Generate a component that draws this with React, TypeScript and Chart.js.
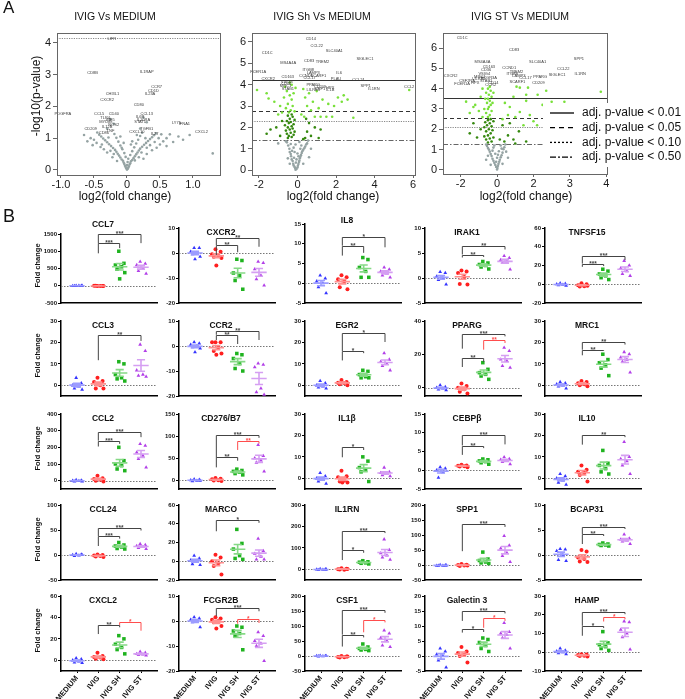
import React, { useEffect, useRef } from "react";
import { Chart, registerables } from "chart.js";

Chart.register(...registerables);

const FONT = "'Liberation Sans', Arial, Helvetica, sans-serif";

/* ================= Panel A : volcano plots ================= */
const v1Gray = [
  [0,0.01],[0.01,0.03],[-0.01,0.05],[0.02,0.07],[-0.02,0.09],[0.03,0.11],[-0.03,0.13],[0,0.15],[0.04,0.17],[-0.04,0.19],
  [0.05,0.21],[-0.05,0.23],[0.01,0.25],[0.06,0.27],[-0.06,0.29],[0.08,0.31],[-0.08,0.33],[0.02,0.35],[0.1,0.37],[-0.1,0.39],
  [-0.02,0.41],[0.12,0.43],[-0.12,0.45],[0.05,0.47],[0.14,0.49],[-0.14,0.51],[-0.04,0.53],[0.16,0.55],[-0.16,0.57],[0.08,0.59],
  [0.18,0.61],[-0.18,0.63],[-0.07,0.65],[0.2,0.67],[-0.21,0.69],[0.11,0.71],[0.23,0.73],[-0.24,0.75],[-0.1,0.77],[0.26,0.79],
  [-0.27,0.81],[0.14,0.83],[0.29,0.85],[-0.3,0.87],[-0.13,0.89],[0.32,0.91],[-0.33,0.93],[0.17,0.95],[0.35,0.97],[-0.36,0.99],
  [-0.16,1.01],[0.38,1.03],[-0.39,1.05],[0.2,1.07],[0.41,1.09],[-0.42,1.11],[-0.19,1.13],[0.44,1.15],[0.23,1.17],[-0.45,1.18],
  [0.25,0.35],[-0.22,0.4],[0.3,0.5],[-0.3,0.55],[0.38,0.62],[-0.35,0.65],[0.45,0.7],[-0.4,0.72],[0.5,0.8],[-0.46,0.85],
  [0.55,0.9],[-0.5,0.95],[0.6,1.0],[-0.55,1.0],[0.52,1.12],[0.65,1.12],[-0.65,1.1],[0.95,1.1],[1.3,0.52],[0.7,0.88],
  [0.78,1.05],[-0.6,0.9],[0.3,0.7],[-0.25,0.6],[0.12,0.3],[-0.15,0.28],[0.18,0.4],[0.28,1.0],[-0.28,1.02],[0.08,0.9],
  [-0.05,0.85],[0.35,0.78],[-0.38,0.8],[0.42,0.88],[0.15,1.1],[-0.1,1.05],[0.48,1.0],[0.6,0.75],[-0.52,0.78],[0.85,0.95],
  [0.22,0.55],[-0.2,0.5],[-0.3,1.3],[-0.2,1.45],[0.2,1.3],[0.3,1.5],[-0.25,1.6],[0.25,1.65],[-0.08,0.7],[0.06,0.8],
];
const v1Labels: [string, number, number][] = [
  ["LIFR",-0.23,4.13],["CD8B",-0.52,3.05],["IL1RAP",0.3,3.1],["CCR7",0.45,2.6],["CD1D",0.4,2.5],["IL23A",0.35,2.4],
  ["CHI3L1",-0.22,2.4],["CXCR2",-0.3,2.2],["CD80",0.18,2.05],["PDGFRA",-0.97,1.75],["CXCL2",1.13,1.2],["LY75",0.75,1.47],
  ["IFNA1",0.87,1.46],["CD209",-0.55,1.3],["CCL5",-0.42,1.75],["CD40",-0.2,1.75],["TLR4",-0.33,1.65],["IRF5",-0.25,1.58],
  ["MYD88",-0.32,1.5],["NOS2",-0.2,1.42],["IL12B",-0.3,1.35],["TNF",-0.25,1.22],["CD86",-0.35,1.15],["IL6R",0.2,1.68],
  ["CCL13",0.3,1.75],["IL10RA",0.25,1.58],["STAT1",0.2,1.5],["TGFB1",0.3,1.28],["CXCL10",0.15,1.2],["IL27",0.42,1.12],
];

const v2Gray = [
  [-0.1,0.02],[-0.05,0.05],[-0.12,0.1],[0,0.12],[-0.15,0.15],[0.02,0.2],[-0.2,0.22],[0.05,0.28],[-0.22,0.3],[-0.08,0.35],
  [0.08,0.38],[-0.25,0.42],[0.1,0.45],[-0.3,0.5],[0.12,0.55],[-0.18,0.58],[0.15,0.62],[-0.33,0.65],[0.18,0.7],[-0.35,0.75],
  [0,0.78],[0.22,0.8],[-0.4,0.85],[0.25,0.88],[-0.28,0.9],[0.3,0.95],[-0.42,1.0],[0.35,1.02],[-0.2,1.05],[0.4,1.1],
  [-0.48,1.15],[0.45,1.2],[-0.35,1.22],[0.5,1.25],[-0.55,1.3],[0.1,1.32],[-0.6,1.35],[0.55,1.38],[-1.0,1.25],[0.7,1.0],
  [0.6,0.6],[-0.5,0.55],[0.3,0.3],[-0.4,0.3],[-0.05,0.5],[0.05,0.65],[-0.15,0.85],[0.15,1.0],[-0.1,1.2],[0.2,1.15],
];
const v2Dark = [
  [-0.5,1.5],[-0.3,1.55],[-0.45,1.6],[-0.2,1.65],[-0.55,1.7],[-0.35,1.75],[-0.15,1.8],[-0.6,1.85],[-0.4,1.9],[-0.25,1.95],
  [-0.5,2.0],[-0.3,2.05],[-0.65,2.1],[-0.2,2.15],[-0.45,2.2],[-0.35,2.25],[-0.55,2.3],[-0.15,2.35],[-0.4,2.4],[-0.25,2.5],
  [-0.5,2.55],[-0.3,2.6],[-1.4,1.9],[-1.6,1.7],[-0.9,1.6],[0.4,1.5],[0.5,1.8],[0.7,1.6],[0.9,2.0],[1.2,1.9],
  [0.6,2.2],[0.45,2.4],[1.1,1.5],[0.3,1.45],[-0.8,2.3],[-1.1,2.0],
];
const v2Light = [
  [-2.1,3.75],[-1.6,3.6],[-1.5,3.35],[-1.2,3.2],[-0.9,3.0],[-0.7,3.4],[-0.6,2.9],[-0.5,3.1],[-0.4,3.5],[-0.3,3.3],
  [-0.2,3.6],[-0.45,2.7],[-0.35,2.8],[-0.25,3.0],[-0.15,2.75],[-0.55,3.7],[-0.65,3.9],[-0.3,4.0],[-0.1,3.85],[-0.4,4.1],
  [0.3,3.8],[0.4,3.4],[0.5,3.0],[0.6,3.6],[0.7,2.8],[0.8,3.2],[0.9,2.5],[1.0,3.7],[1.1,2.9],[1.3,3.3],
  [1.5,2.5],[1.6,3.1],[1.8,2.5],[1.9,3.0],[2.1,3.4],[2.3,3.2],[2.4,3.5],[2.6,3.3],[2.9,2.45],[0.2,2.6],
  [0.35,2.5],[1.2,2.5],[-1.0,2.6],[-0.8,2.7],[5.8,3.75],
];
const v2Labels: [string, number, number][] = [
  ["CD14",0.69,6.13],["CCL22",1.0,5.83],["SLC40A1",1.91,5.58],["CD1C",-1.57,5.5],["SIGLEC1",3.5,5.2],["CD83",0.6,5.1],
  ["MS4A4A",-0.48,5.03],["TREM2",1.3,5.05],["FCER1A",-2.04,4.58],["CXCR2",-1.52,4.27],["ITGB8",0.56,4.69],["LAMP3",0.82,4.56],
  ["CCND1",0.44,4.4],["CCL17",0.63,4.3],["SCARF1",1.08,4.4],["IL6",2.16,4.53],["PLAU",2.0,4.27],["CCL24",3.16,4.22],
  ["SPP1",3.54,3.94],["IL1RN",3.97,3.8],["CCL2",5.8,3.9],["CD163",-0.5,4.35],["VSIG4",-0.55,4.15],["CD36",-0.6,4.02],
  ["MRC1",-0.62,3.92],["STAB1",-0.5,3.82],["PPARG",0.82,4.0],["CD209",1.17,3.9],["HPX",1.7,3.85],["LILRB5",0.82,3.75],
  ["CSF1",1.17,3.8],["IL1B",1.7,3.75],
];

const v3Gray = [
  [0,0.02],[0.02,0.1],[-0.05,0.15],[0.05,0.2],[-0.1,0.25],[0.08,0.3],[-0.15,0.35],[0.12,0.4],[-0.2,0.45],[0.15,0.5],
  [-0.25,0.55],[0,0.6],[0.2,0.62],[-0.3,0.68],[0.25,0.72],[-0.35,0.78],[-0.1,0.8],[0.3,0.85],[-0.4,0.9],[0.1,0.92],
  [-0.45,1.0],[0.35,1.02],[-0.5,1.08],[-0.2,1.1],[0.4,1.12],[-0.55,1.18],[0.2,1.2],[-0.6,1.25],[0.45,1.25],[0.5,0.9],
  [-0.5,0.7],[0.6,0.6],[-0.6,0.5],[0.3,0.3],[-0.35,0.25],[-0.05,0.4],[0.05,0.75],[-0.25,0.95],[-0.15,1.2],[0.25,1.05],
];
const v3Dark = [
  [-0.5,1.35],[-0.3,1.4],[-0.6,1.5],[-0.4,1.55],[-0.2,1.6],[-0.7,1.65],[-0.5,1.7],[-0.35,1.8],[-0.6,1.9],[-0.25,1.95],
  [-0.45,2.0],[-0.7,2.1],[-0.3,2.15],[-0.55,2.2],[-0.4,2.3],[-0.65,2.35],[-0.2,2.4],[-0.5,2.45],[-0.35,2.5],[-1.5,1.8],
  [-1.1,1.6],[-0.9,2.0],[0.4,1.4],[0.6,1.7],[0.9,1.5],[1.2,1.9],[1.6,1.4],[0.3,2.2],[0.7,2.3],[1.0,1.3],
  [0.15,1.5],[-1.3,2.3],
];
const v3Light = [
  [-0.5,2.6],[-0.4,2.7],[-0.6,2.8],[-0.3,2.9],[-0.5,3.0],[-0.45,3.1],[-0.35,3.2],[-0.55,3.3],[-0.4,3.4],[-0.5,3.5],
  [-0.3,3.6],[-0.45,3.7],[-0.6,3.8],[-0.35,3.9],[-0.5,4.0],[-0.4,4.1],[-0.7,3.0],[-0.25,3.3],[-0.65,3.5],[-0.2,3.8],
  [-0.8,2.6],[-1.0,2.9],[-1.2,3.2],[-1.3,3.1],[-1.7,3.36],[-1.5,2.8],[-0.9,3.6],[-0.8,4.0],[0.3,2.5],[0.43,3.3],
  [0.7,3.1],[0.9,3.6],[1.07,4.1],[1.25,4.05],[1.7,4.05],[1.6,3.7],[2.23,3.7],[2.7,3.9],[5.7,3.85],[1.25,2.85],
  [1.8,2.7],[2.5,3.2],[3.0,3.35],[3.7,3.35],[1.6,3.4],[1.0,2.6],[1.45,2.2],[2.0,2.4],[0.6,2.7],[2.2,2.2],
];
const v3Labels: [string, number, number][] = [
  ["CD1C",-1.92,6.48],["CD83",0.94,5.9],["SPP1",4.5,5.45],["IL1RN",4.57,4.75],["CCL22",3.64,4.95],["SIGLEC1",3.3,4.7],
  ["SLC40A1",2.23,5.3],["PPARG",2.37,4.6],["CD209",2.28,4.3],["CCND1",0.67,5.03],["TREM2",1.07,4.85],["ITGB8",0.83,4.75],
  ["LAMP3",1.2,4.65],["CCL17",1.56,4.55],["SCARF1",1.12,4.34],["CXCR2",-2.55,4.62],["CSF2RA",-1.65,4.4],["FCER1A",-1.92,4.24],
  ["HPX",-1.2,4.3],["MS4A4A",-0.8,5.3],["CD163",-0.45,5.05],["CD36",-0.6,4.9],["VSIG4",-0.7,4.75],["MRC1",-0.95,4.6],
  ["FCGR3A",-0.45,4.55],["STAB1",-0.6,4.4],["CD14",-0.2,4.3],["CCR2",-0.35,4.2],["LILRB5",-1.0,4.5],
];

const v1Cutoffs = [4.15];
const v2Cutoffs = [4.22, 2.75, 2.32, 1.42];
const v3Cutoffs = [3.52, 2.55, 2.12, 1.3];
const v1XTicks = [-1, -0.5, 0, 0.5, 1];
const v1XTickLabels = ["-1.0", "-0.5", "0", "0.5", "1.0"];
const v2XTicks = [-2, 0, 2, 4, 6];
const v2XTickLabels = ["-2", "0", "2", "4", "6"];
const v3XTicks = [-2, 0, 2, 4, 6];
const v3XTickLabels = ["-2", "0", "2", "3", "4"];
const v1YTicks = [0, 1, 2, 3, 4];
const v2YTicks = [0, 1, 2, 3, 4, 5, 6];
const v3YTicks = [0, 1, 2, 3, 4, 5, 6];
const legendLabels = ["adj. p-value < 0.01", "adj. p-value < 0.05", "adj. p-value < 0.10", "adj. p-value < 0.50"];

/* ================= Panel B : dot plots ================= */
const groupNames = ["MEDIUM", "IVIG", "IVIG SH", "IVIG ST"];
const geneNames = [
  "CCL7","CXCR2","IL8","IRAK1","TNFSF15",
  "CCL3","CCR2","EGR2","PPARG","MRC1",
  "CCL2","CD276/B7","IL1β","CEBPβ","IL10",
  "CCL24","MARCO","IL1RN","SPP1","BCAP31",
  "CXCL2","FCGR2B","CSF1","Galectin 3","HAMP",
];
const yMin = [-500,-20,-5,-5,-20, -5,-20,-5,-5,-5, -50,-20,-5,-5,-5, -50,-20,-50,-50,-5, -10,-20,-50,-5,-10];
const yMax = [1500,10,15,10,60, 30,10,30,40,30, 400,150,30,15,30, 100,60,300,200,10, 60,10,200,20,30];
const yTicks = [
  [-500,0,500,1000,1500],[-20,-10,0,10],[-5,0,5,10,15],[-5,0,5,10],[-20,0,20,40,60],
  [0,10,20,30],[-20,-10,0,10],[0,10,20,30],[0,20,40],[0,10,20,30],
  [0,100,200,300,400],[0,50,100,150],[0,10,20,30],[-5,0,5,10,15],[0,10,20,30],
  [-50,0,50,100],[-20,0,20,40,60],[0,100,200,300],[-50,0,50,100,150,200],[-5,0,5,10],
  [0,20,40,60],[-20,-10,0,10],[-50,0,50,100,150,200],[-5,0,5,10,15,20],[-10,0,10,20,30],
];
const mediumValues = [
  [5,0,-3,2,-5,0],[2,2,0.5,0,-0.5,-1.5,-2.5],[2,1.2,0.5,0,-1,-2.5],[1.2,1,0.3,0,-0.4,-1.3],[1,0.5,0,-0.5,-1,-1.5],
  [3.5,1,0,-0.5,-1.5,-2],[1.5,1,0.5,0,-0.5,-1,-2.5],[2,1,0,-0.5,-1,-1.5],[1.5,0.5,0,-0.5,-1,-1.5],[1.5,1,0.5,0,-0.5,-1.5],
  [5,2,0,-2,-5,-4],[2,1,0,-1,-2,-1],[2.5,1,0,-0.5,-1.5,-2.5],[0.8,0.5,0,-0.5,-2],[2,1,0,-1,-2,-3],
  [2,1,0,-1,-2,0],[6,3,1,0,-3,-4],[2,0,-1,-2,-3,0],[0,-1,-2,-2,-2,-1],[1.2,1.1,0.8,0,-1,-1.2],
  [2,1,0,-1,-2,-2.5],[1.5,1,0.5,0,-0.5,-2.5],[1,0.5,0,-0.5,-1,0],[2.5,1.5,0.5,0,-1.5,-3.8],[2,1,0.5,0,-0.5,-1],
];
const ivigValues = [
  [-8,-5,0,-10,-3,-6],[1.5,0.5,-0.5,-1,-1.5,-2,-5],[2,1.5,1,0.5,-1,-1.5],[1.5,1.3,1,0.2,-1.2,-1.3],[1,0,-1,-2,-2.5,-1.5],
  [3.5,2,1.5,0,-1.5,-1.5],[1.5,1.5,1.5,-0.5,-2,-3,-3.5],[2.5,1.5,1.2,1,0.5,0],[2.5,1,0,-1,-2.5,-3.5],[2,1.5,1,0.5,0,-0.5],
  [30,15,10,5,0,-5],[5,3,2,0,-1,-2],[3.5,1,0.5,-1,-1.5,-2,-2],[1.5,1.3,1.2,1.1,1,0.8],[6,4,3,2.5,1.5,-1.5],
  [1,0,-1,-2,-3,-4],[7,4,0,-2,-5,-14],[5,2,0,-2,-1,1],[3,1,0,-2,-3,-2],[1,0.7,-0.5,-0.8,-1.3,-1.4],
  [7,4,3,2.5,1.5,1],[1.5,1,0.5,0,-0.5,-2,-3],[0,-2,-3,-4,-5,-2],[3,1.5,1,0.5,0,-2.2],[-1,-1.2,-1.5,-1.8,-2,-2.2],
];
const ivigShValues = [
  [1000,650,600,550,480,380,200],[-2.5,-3,-8,-9,-11,-14.5],[6.5,6,4,3,1.5,1.5],[3.3,3,2.7,2.5,2.2,1.8],[16,14,11,9,7,5],
  [11,10,5,3.5,3,2],[-3,-3.5,-5,-7,-9,-10],[7,6.5,5,4,3.5,3.5],[15,11,9,8,7,5],[14.5,12,10.5,9.5,8,4.5],
  [200,120,100,90,70,60],[25,22,20,18,15,12],[10,8,5,4,3,-1.5],[3,2.8,2.5,2.3,2,1.6],[13,7,6,4.5,3,2],
  [25,20,18,16,13,12],[34,19,13,6,3,2],[40,35,33,30,28,25],[43,20,15,10,7,5],[2.4,2.2,2.1,2,1.9,1.8],
  [23,20,15,12,10,6],[-2,-2.5,-4,-5,-6,-11.5],[40,30,25,22,20,18],[6,5.5,4.5,3.5,2.5,1.5],[11,5,4,3,2,1],
];
const ivigStValues = [
  [700,640,600,500,430,350],[-3.5,-4,-6.5,-9,-10.5,-13],[4,3.5,3,2.5,2,1.5],[4.4,4,3.6,3.3,3,1.7],[25,20,17,14,11,9],
  [19,16,7,5,4.5,4],[-7,-7.5,-8.5,-17,-18.5,-19.5],[15,12,11,10,9,7],[24,22,17,16,13,12],[15.5,14.5,13,12,11,6],
  [220,210,170,150,130,80],[80,55,50,45,40,20],[5,3,2.5,2,1.5,1],[3.5,3,2.8,2.6,2.2,1.6],[17,10,9,8,6,2],
  [22,20,18,16,14,12],[24,11,8,5,2,2],[140,90,75,65,55,45],[97,65,55,40,30,10],[4.1,3.3,3.1,2.9,2.7,2.2],
  [8,7,6,5.5,5,4.5],[-4.5,-6,-8,-9,-10,-16],[85,75,60,50,35,30],[11,8,7.5,7,6,2.5],[16.5,16,12,10,8,1.5],
];
// [fromGroup, toGroup, top, leftEnd, rightEnd, stars, red]
const brackets: [number, number, number, number, number, string, number][][] = [
  [[1,2,1235,940,1090,"***",0],[1,3,1510,1235,1235,"***",0]],
  [[1,2,3.2,-0.8,0.3,"**",0],[1,3,6.1,3.2,2.5,"**",0]],
  [[1,2,9.5,7,7.7,"**",0],[1,3,11.8,9.5,9.1,"*",0]],
  [[1,2,4.7,4.1,4.2,"**",0],[1,3,6.4,4.7,5.7,"**",0]],
  [[1,2,22,18.6,19.4,"***",0],[1,3,30.4,22,25.7,"***",0]],
  [[1,3,23.6,11.7,20.7,"**",0]],
  [[1,2,4.5,2.4,0.8,"**",0],[1,3,6.2,4.5,2.4,"**",0]],
  [[1,2,16,11.6,15,"*",0],[1,3,24.4,16,20.2,"*",0]],
  [[1,2,18,12.4,15.4,"**",0],[1,3,32.4,23.4,30.8,"***",0],[2,3,28.8,22.8,26.8,"**",1]],
  [[1,2,16.6,14,16,"**",0],[1,3,20.2,16.6,19,"**",0]],
  [[1,2,240,205,221,"***",0],[1,3,290,240,261,"***",0]],
  [[1,2,51.5,29,44,"**",0],[1,3,102,51.5,96,"***",0],[2,3,88.5,68.5,83,"**",1]],
  [[1,2,14.4,9.8,13.2,"*",0]],
  [[1,2,6.6,4.1,5.9,"**",0],[1,3,9.5,6.6,6.9,"***",0]],
  [[1,3,20.3,15.7,19.2,"**",0]],
  [[1,2,38,18,32.7,"***",0],[1,3,54,38,49,"***",0]],
  [[1,3,44,32,41,"*",0]],
  [[1,2,90,43,77,"*",0],[1,3,180,90,169,"***",0]],
  [[1,3,137,46,127,"***",0]],
  [[1,2,4.2,2.2,3.8,"**",0],[1,3,5.6,4.2,5.2,"***",0]],
  [[1,2,33,24.5,30.8,"**",0],[2,3,36,33,27.6,"*",1]],
  [[1,3,5.3,1.9,3.9,"***",0],[2,3,0.9,-1.1,-0.8,"*",1]],
  [[1,2,71,31.5,62,"**",0],[1,3,152,71,144,"***",0],[2,3,120,79,112,"*",1]],
  [[1,2,8.9,7.8,8,"*",0],[1,3,15,11.7,14.2,"***",0],[2,3,12.6,9.4,11.7,"*",1]],
  [[1,2,14.1,8.8,12.9,"*",0],[1,3,21.5,14.1,20.3,"***",0],[2,3,18.9,16.4,17.6,"*",1]],
];

/* ================= styles / layout ================= */
const GROUP_COLOR = ["#3434ff", "#ff1f1f", "#1fb31f", "#b23fe8"];
const GROUP_MEAN = ["#9c9cff", "#ff8f8f", "#86d986", "#d59ff2"];
const GROUP_STYLE = ["triangle", "circle", "rect", "triangle"];
const GROUP_RADIUS = [2.2, 2.0, 2.5, 2.2];
const JITTER = [-0.04, 0.2, -0.2, 0.09, -0.12, 0.24, 0.0];
const COL_X = [61, 179, 305, 425, 545];
const ROW_Y = [228, 321, 414, 505, 596];
const TOP_SHIFT = [6, 0, -4, 0, 0, 0, 0, 0, 0, 0, 0, 0, 0, 0, 0, 0, 0, 0, 0, 0, 0, 0, 0, 0, 0];
const TITLE_DY = [-9, 5, -3, 5, 5, 5, 5, 5, 5, 5, 5, 5, 5, 5, 5, 5, 5, 5, 5, 5, 5, 5, 5, 5, 5];
const PLOT_W = 96;
const PLOT_H = 75;

const LINE_DASH = [[], [4, 3], [1.2, 1.2], [5, 2, 1.5, 2]];
const LINE_COLOR = ["#333", "#333", "#888", "#666"];
const LEGEND_DASH = [[], [5, 4], [2, 2], [6, 2, 2, 2]];

function meanSem(vals: number[]) {
  const n = vals.length;
  const m = vals.reduce((a, b) => a + b, 0) / n;
  const sd = Math.sqrt(vals.reduce((a, b) => a + (b - m) * (b - m), 0) / (n - 1));
  return [m, sd / Math.sqrt(n)];
}

function volcanoConfig(s: any) {
  const YW = 24, XH = 16, H = 205;
  const [l, t, r, b] = s.area;
  const pts = (arr: number[][]) => arr.map(([x, y]) => ({ x, y }));
  const ds = (arr: number[][], color: string) => ({
    data: pts(arr), backgroundColor: color, borderColor: color, pointRadius: 1.3, pointBorderWidth: 0, pointHoverRadius: 0,
  });
  const plugin = {
    id: "volcano",
    beforeDatasetsDraw(chart: any) {
      const { ctx, chartArea: a, scales } = chart;
      ctx.save();
      s.cutoffs.forEach((c: number, i: number) => {
        const st = s.cutoffStyles[i];
        const py = Math.round(scales.y.getPixelForValue(c)) + 0.5;
        ctx.setLineDash(LINE_DASH[st]);
        ctx.strokeStyle = LINE_COLOR[st];
        ctx.lineWidth = 1;
        ctx.beginPath(); ctx.moveTo(a.left, py); ctx.lineTo(a.right, py); ctx.stroke();
      });
      ctx.restore();
    },
    afterDraw(chart: any) {
      const { ctx, chartArea: a, scales } = chart;
      const ox = s.canvasLeft;
      ctx.save();
      ctx.font = `4px ${FONT}`;
      ctx.fillStyle = "#3a3a3a";
      ctx.textAlign = "center";
      ctx.textBaseline = "middle";
      s.labels.forEach(([name, lx, ly]: [string, number, number]) => {
        ctx.fillText(name, scales.x.getPixelForValue(lx), scales.y.getPixelForValue(ly));
      });
      ctx.setLineDash([]);
      ctx.strokeStyle = "#666";
      ctx.lineWidth = 1;
      ctx.strokeRect(Math.round(a.left) + 0.5, Math.round(a.top) + 0.5, Math.round(a.right - a.left), Math.round(a.bottom - a.top));
      ctx.fillStyle = "#111";
      ctx.font = `10.5px ${FONT}`;
      ctx.fillText(s.title, s.titleX - ox, 17);
      ctx.font = `12px ${FONT}`;
      ctx.fillText("log2(fold change)", s.xLabelX - ox, 197);
      if (s.yLabel) {
        ctx.save();
        ctx.translate(37 - ox, 96);
        ctx.rotate(-Math.PI / 2);
        ctx.fillText("-log10(p-value)", 0, 0);
        ctx.restore();
      }
      if (s.legend) {
        ctx.fillStyle = "#fff";
        ctx.fillRect(543 - ox, 103, 142, 64);
        legendLabels.forEach((txt, i) => {
          const yy = 113 + i * 14.7;
          ctx.setLineDash(LEGEND_DASH[i]);
          ctx.strokeStyle = "#000";
          ctx.lineWidth = 1.3;
          ctx.beginPath(); ctx.moveTo(550 - ox, yy); ctx.lineTo(574 - ox, yy); ctx.stroke();
          ctx.setLineDash([]);
          ctx.fillStyle = "#111";
          ctx.font = `12px ${FONT}`;
          ctx.textAlign = "left";
          ctx.fillText(txt, 582 - ox, yy);
        });
      }
      ctx.restore();
    },
  };
  const tickFont = { family: FONT, size: 11 };
  return {
    type: "scatter",
    data: { datasets: [ds(s.gray, "#95a3a3"), ds(s.dark, "#35880f"), ds(s.light, "#79e03a")] },
    options: {
      animation: false, responsive: false, devicePixelRatio: 1, events: [],
      layout: { padding: { left: l - s.canvasLeft - YW, right: s.canvasLeft + s.canvasWidth - r, top: t, bottom: H - b - XH } },
      plugins: { legend: { display: false }, tooltip: { enabled: false } },
      scales: {
        x: {
          type: "linear", min: s.xMin, max: s.xMax,
          afterBuildTicks: (sc: any) => { sc.ticks = s.xTicks.map((v: number) => ({ value: v })); },
          ticks: { callback: (_v: any, i: number) => s.xTickLabels[i], font: tickFont, color: "#1a1a1a", padding: 0, maxRotation: 0, minRotation: 0, autoSkip: false },
          grid: { display: true, drawOnChartArea: false, drawTicks: true, tickLength: 3, color: "#666" },
          border: { display: false },
          afterFit: (sc: any) => { sc.height = XH; sc.paddingLeft = 0; sc.paddingRight = 0; },
        },
        y: {
          type: "linear", min: s.yMin, max: s.yMax,
          afterBuildTicks: (sc: any) => { sc.ticks = s.yTicks.map((v: number) => ({ value: v })); },
          ticks: { callback: (v: any) => String(v), font: tickFont, color: "#1a1a1a", padding: 2, autoSkip: false },
          grid: { display: true, drawOnChartArea: false, drawTicks: true, tickLength: 4, color: "#666" },
          border: { display: false },
          afterFit: (sc: any) => { sc.width = YW; sc.paddingTop = 0; sc.paddingBottom = 0; },
        },
      },
    },
    plugins: [plugin],
  };
}

const volcanoSpecs = [
  {
    canvasLeft: 0, canvasWidth: 228, area: [57, 33, 220, 175],
    xMin: -1.06, xMax: 1.41, yMin: -0.16, yMax: 4.31,
    xTicks: v1XTicks, xTickLabels: v1XTickLabels, yTicks: v1YTicks,
    gray: v1Gray, dark: [], light: [], labels: v1Labels,
    cutoffs: v1Cutoffs, cutoffStyles: [2],
    title: "IVIG Vs MEDIUM", titleX: 115, xLabelX: 125, yLabel: true, legend: false,
  },
  {
    canvasLeft: 228, canvasWidth: 192, area: [252, 33, 415, 175],
    xMin: -2.36, xMax: 6.1, yMin: -0.23, yMax: 6.42,
    xTicks: v2XTicks, xTickLabels: v2XTickLabels, yTicks: v2YTicks,
    gray: v2Gray, dark: v2Dark, light: v2Light, labels: v2Labels,
    cutoffs: v2Cutoffs, cutoffStyles: [0, 1, 2, 3],
    title: "IVIG Sh Vs MEDIUM", titleX: 322, xLabelX: 333, yLabel: false, legend: false,
  },
  {
    canvasLeft: 420, canvasWidth: 265, area: [443, 33, 607, 174],
    xMin: -2.97, xMax: 6.04, yMin: -0.2, yMax: 6.74,
    xTicks: v3XTicks, xTickLabels: v3XTickLabels, yTicks: v3YTicks,
    gray: v3Gray, dark: v3Dark, light: v3Light, labels: v3Labels,
    cutoffs: v3Cutoffs, cutoffStyles: [0, 1, 2, 3],
    title: "IVIG ST Vs MEDIUM", titleX: 520, xLabelX: 526, yLabel: false, legend: true,
  },
];

function miniConfig(g: number) {
  const col = g % 5;
  const row = Math.floor(g / 5);
  const isBottom = row === 4;
  const XH = isBottom ? 28 : 4;
  const YW = 22;
  const shift = TOP_SHIFT[g];
  const groups = [mediumValues[g], ivigValues[g], ivigShValues[g], ivigStValues[g]];
  const datasets = groups.map((vals, k) => ({
    label: groupNames[k],
    data: vals.map((v, i) => ({ x: k + JITTER[i % JITTER.length], y: v })),
    pointStyle: GROUP_STYLE[k], pointRadius: GROUP_RADIUS[k], pointHoverRadius: 0,
    backgroundColor: GROUP_COLOR[k], borderColor: GROUP_COLOR[k], pointBorderWidth: 0,
  }));
  const plugin = {
    id: "mini",
    beforeDatasetsDraw(chart: any) {
      const { ctx, chartArea: a, scales } = chart;
      const py = Math.round(scales.y.getPixelForValue(0)) + 0.5;
      ctx.save();
      ctx.strokeStyle = "#777";
      ctx.lineWidth = 1;
      ctx.setLineDash([1.5, 1.5]);
      ctx.beginPath(); ctx.moveTo(a.left, py); ctx.lineTo(a.right, py); ctx.stroke();
      ctx.restore();
    },
    afterDatasetsDraw(chart: any) {
      const { ctx, chartArea: a, scales } = chart;
      const { x, y } = scales;
      ctx.save();
      groups.forEach((vals, k) => {
        const [m, sem] = meanSem(vals);
        const cx = x.getPixelForValue(k);
        const my = y.getPixelForValue(m), hi = y.getPixelForValue(m + sem), lo = y.getPixelForValue(m - sem);
        const hw = x.getPixelForValue(k + 0.36) - cx;
        const cw = x.getPixelForValue(k + 0.19) - cx;
        ctx.strokeStyle = GROUP_MEAN[k];
        ctx.lineWidth = 1.6;
        ctx.beginPath();
        ctx.moveTo(cx - hw, my); ctx.lineTo(cx + hw, my);
        ctx.moveTo(cx, hi); ctx.lineTo(cx, lo);
        ctx.moveTo(cx - cw, hi); ctx.lineTo(cx + cw, hi);
        ctx.moveTo(cx - cw, lo); ctx.lineTo(cx + cw, lo);
        ctx.stroke();
      });
      brackets[g].forEach(([from, to, top, le, re, stars, red]) => {
        const xa = x.getPixelForValue(from), xb = x.getPixelForValue(to);
        const yt = Math.round(y.getPixelForValue(top)) + 0.5;
        const col2 = red ? "#ff4d4d" : "#444";
        ctx.strokeStyle = col2;
        ctx.lineWidth = 1;
        ctx.beginPath();
        ctx.moveTo(xa, y.getPixelForValue(le)); ctx.lineTo(xa, yt); ctx.lineTo(xb, yt); ctx.lineTo(xb, y.getPixelForValue(re));
        ctx.stroke();
        ctx.fillStyle = col2;
        ctx.font = `bold 6.5px ${FONT}`;
        ctx.textAlign = "center";
        ctx.textBaseline = "alphabetic";
        ctx.fillText(stars, (xa + xb) / 2, yt + 1.5);
      });
      ctx.fillStyle = "#111";
      ctx.font = `bold 8.5px ${FONT}`;
      ctx.textAlign = "center";
      ctx.textBaseline = "middle";
      ctx.fillText(geneNames[g], (a.left + a.right) / 2 - 6, a.top + TITLE_DY[g]);
      if (col === 0) {
        ctx.save();
        ctx.font = `bold 7.5px ${FONT}`;
        ctx.translate(a.left - 23, (a.top + a.bottom) / 2 - 3);
        ctx.rotate(-Math.PI / 2);
        ctx.fillText("Fold change", 0, 0);
        ctx.restore();
      }
      ctx.restore();
    },
  };
  return {
    type: "scatter",
    data: { datasets },
    options: {
      animation: false, responsive: false, devicePixelRatio: 1, events: [],
      layout: { padding: { left: 40 - YW, right: 14, top: 20 + shift, bottom: 0 } },
      plugins: { legend: { display: false }, tooltip: { enabled: false } },
      scales: {
        x: {
          type: "linear", min: -0.75, max: 3.75,
          afterBuildTicks: (sc: any) => { sc.ticks = [0, 1, 2, 3].map((v) => ({ value: v })); },
          ticks: {
            display: isBottom, callback: (_v: any, i: number) => groupNames[i], autoSkip: false,
            minRotation: 50, maxRotation: 50, padding: 1,
            font: { family: FONT, size: 7.5, weight: "bold" }, color: "#111",
          },
          grid: { display: isBottom, drawOnChartArea: false, drawTicks: true, tickLength: 2, color: "#000" },
          border: { display: true, color: "#000", width: 1.5 },
          afterFit: (sc: any) => { sc.height = XH; sc.paddingLeft = 0; sc.paddingRight = 0; },
        },
        y: {
          type: "linear", min: yMin[g], max: yMax[g],
          afterBuildTicks: (sc: any) => { sc.ticks = yTicks[g].map((v) => ({ value: v })); },
          ticks: { callback: (v: any) => String(v), font: { family: FONT, size: 6, weight: "bold" }, color: "#111", padding: 1, autoSkip: false },
          grid: { display: true, drawOnChartArea: false, drawTicks: true, tickLength: 3, color: "#000" },
          border: { display: true, color: "#000", width: 1.5 },
          afterFit: (sc: any) => { sc.width = YW; sc.paddingTop = 0; sc.paddingBottom = 0; },
        },
      },
    },
    plugins: [plugin],
  };
}

function ChartCanvas({ left, top, width, height, build }: any) {
  const ref = useRef<HTMLCanvasElement | null>(null);
  useEffect(() => {
    const chart = new Chart(ref.current as HTMLCanvasElement, build());
    return () => chart.destroy();
  }, []);
  return (
    <canvas
      ref={ref}
      width={width}
      height={height}
      style={{ position: "absolute", left, top, width, height }}
    />
  );
}

export default function App() {
  return (
    <div style={{ position: "fixed", left: 0, top: 0, width: 685, height: 699, background: "#fff", overflow: "hidden", fontFamily: FONT }}>
      {volcanoSpecs.map((s, i) => (
        <ChartCanvas key={"v" + i} left={s.canvasLeft} top={0} width={s.canvasWidth} height={205} build={() => volcanoConfig(s)} />
      ))}
      {geneNames.map((_n, g) => {
        const col = g % 5;
        const row = Math.floor(g / 5);
        const h = 20 + PLOT_H + (row === 4 ? 28 : 4);
        return (
          <ChartCanvas key={"m" + g} left={COL_X[col] - 40} top={ROW_Y[row] - 20} width={40 + PLOT_W + 14} height={h} build={() => miniConfig(g)} />
        );
      })}
      <div style={{ position: "absolute", left: 3, top: -1, fontSize: 17, lineHeight: "17px", color: "#111" }}>A</div>
      <div style={{ position: "absolute", left: 3, top: 207, fontSize: 18, lineHeight: "18px", color: "#111" }}>B</div>
    </div>
  );
}
